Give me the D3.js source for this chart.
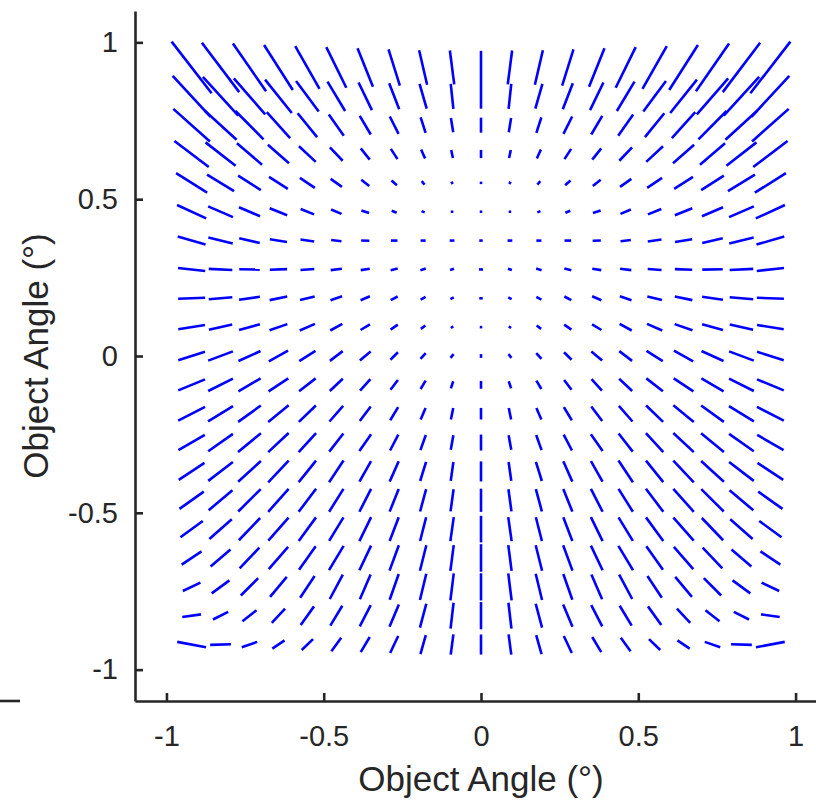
<!DOCTYPE html>
<html>
<head>
<meta charset="utf-8">
<script src="https://cdn.jsdelivr.net/npm/d3@7"></script>
<style>
  html, body { margin: 0; padding: 0; background: #fff; }
  svg { display: block; }
  text { font-family: "Liberation Sans", Arial, Helvetica, sans-serif; fill: #262626; }
</style>
</head>
<body>
<svg id="chart" width="816" height="804"></svg>
<script>
// Field sample positions (degrees)
const fieldX = [-0.92,-0.828,-0.736,-0.644,-0.552,-0.46,-0.368,-0.276,-0.184,-0.092,0,0.092,0.184,0.276,0.368,0.46,0.552,0.644,0.736,0.828,0.92];
const fieldY = [0.92,0.828,0.736,0.644,0.552,0.46,0.368,0.276,0.184,0.092,0,-0.092,-0.184,-0.276,-0.368,-0.46,-0.552,-0.644,-0.736,-0.828,-0.92];

// Line length at each field point (same units as the axes), one row per fieldY
const segLength = [
  [0.208,0.197,0.185,0.170,0.157,0.144,0.132,0.121,0.113,0.109,0.106,0.109,0.113,0.121,0.132,0.144,0.157,0.170,0.185,0.197,0.208],
  [0.178,0.167,0.152,0.136,0.121,0.109,0.098,0.089,0.082,0.080,0.079,0.080,0.082,0.089,0.098,0.109,0.121,0.136,0.152,0.167,0.178],
  [0.156,0.138,0.127,0.111,0.098,0.083,0.069,0.062,0.052,0.046,0.048,0.046,0.052,0.062,0.069,0.083,0.098,0.111,0.127,0.138,0.156],
  [0.137,0.121,0.105,0.089,0.073,0.059,0.046,0.039,0.031,0.026,0.026,0.026,0.031,0.039,0.046,0.059,0.073,0.089,0.105,0.121,0.137],
  [0.117,0.101,0.086,0.071,0.057,0.044,0.032,0.023,0.014,0.008,0.008,0.008,0.014,0.023,0.032,0.044,0.057,0.071,0.086,0.101,0.117],
  [0.102,0.086,0.073,0.060,0.046,0.036,0.026,0.017,0.011,0.008,0.008,0.008,0.011,0.017,0.026,0.036,0.046,0.060,0.073,0.086,0.102],
  [0.092,0.080,0.067,0.055,0.044,0.033,0.026,0.021,0.016,0.015,0.011,0.015,0.016,0.021,0.026,0.033,0.044,0.055,0.067,0.080,0.092],
  [0.087,0.075,0.065,0.055,0.044,0.036,0.029,0.023,0.018,0.013,0.013,0.013,0.018,0.023,0.029,0.036,0.044,0.055,0.065,0.075,0.087],
  [0.086,0.075,0.067,0.057,0.048,0.039,0.032,0.025,0.018,0.012,0.011,0.012,0.018,0.025,0.032,0.039,0.048,0.057,0.067,0.075,0.086],
  [0.086,0.076,0.069,0.060,0.053,0.044,0.035,0.028,0.018,0.009,0.008,0.009,0.018,0.028,0.035,0.044,0.053,0.060,0.069,0.076,0.086],
  [0.089,0.084,0.077,0.070,0.061,0.051,0.045,0.034,0.025,0.015,0.012,0.015,0.025,0.034,0.045,0.051,0.061,0.070,0.077,0.084,0.089],
  [0.092,0.088,0.082,0.075,0.067,0.057,0.049,0.039,0.031,0.024,0.025,0.024,0.031,0.039,0.049,0.057,0.067,0.075,0.082,0.088,0.092],
  [0.096,0.093,0.089,0.084,0.075,0.066,0.058,0.049,0.040,0.037,0.037,0.037,0.040,0.049,0.058,0.066,0.075,0.084,0.089,0.093,0.096],
  [0.097,0.096,0.094,0.089,0.082,0.073,0.065,0.057,0.051,0.047,0.051,0.047,0.051,0.057,0.065,0.073,0.082,0.089,0.094,0.096,0.097],
  [0.098,0.099,0.098,0.095,0.088,0.083,0.075,0.071,0.064,0.061,0.064,0.061,0.064,0.071,0.075,0.083,0.088,0.095,0.098,0.099,0.098],
  [0.095,0.099,0.101,0.098,0.092,0.086,0.082,0.078,0.074,0.071,0.074,0.071,0.074,0.078,0.082,0.086,0.092,0.098,0.101,0.099,0.095],
  [0.088,0.095,0.098,0.098,0.093,0.088,0.085,0.081,0.078,0.077,0.085,0.077,0.078,0.081,0.085,0.088,0.093,0.098,0.098,0.095,0.088],
  [0.076,0.083,0.091,0.094,0.092,0.090,0.087,0.086,0.084,0.083,0.088,0.083,0.084,0.086,0.087,0.090,0.092,0.094,0.091,0.083,0.076],
  [0.062,0.070,0.078,0.083,0.083,0.088,0.086,0.087,0.086,0.087,0.087,0.087,0.086,0.087,0.086,0.088,0.083,0.083,0.078,0.070,0.062],
  [0.060,0.054,0.057,0.062,0.073,0.074,0.076,0.077,0.079,0.083,0.087,0.083,0.079,0.077,0.076,0.074,0.073,0.062,0.057,0.054,0.060],
  [0.093,0.066,0.052,0.047,0.050,0.053,0.056,0.060,0.063,0.065,0.064,0.065,0.063,0.060,0.056,0.053,0.050,0.047,0.052,0.066,0.093]
];

// Line orientation at each field point, degrees counter-clockwise from +x
const segAngle = [
  [-52.3,-52.9,-55.3,-57.5,-60.5,-63.8,-68.2,-72.7,-77,-82.7,90,82.7,77,72.7,68.2,63.8,60.5,57.5,55.3,52.9,52.3],
  [-47.4,-47.6,-49,-51.3,-53.5,-59,-64.3,-69,-74,-84,90,84,74,69,64.3,59,53.5,51.3,49,47.6,47.4],
  [-41.7,-42.5,-45.3,-48,-51,-54.9,-59.5,-63.4,-72.3,-80.8,90,80.8,72.3,63.4,59.5,54.9,51,48,45.3,42.5,41.7],
  [-37.1,-37.9,-40.5,-41.1,-43.2,-46.5,-51.5,-57.2,-66,-78,90,78,66,57.2,51.5,46.5,43.2,41.1,40.5,37.9,37.1],
  [-32.4,-31.7,-32.9,-32.7,-33.7,-35.2,-38.4,-41.2,-48,-56,90,56,48,41.2,38.4,35.2,33.7,32.7,32.9,31.7,32.4],
  [-24.7,-23.4,-23.2,-22,-21.8,-22.8,-19,-22,-22,0,0,0,22,22,19,22.8,21.8,22,23.2,23.4,24.7],
  [-16.1,-13.9,-12.9,-8.9,-8.3,-7.4,-2,0,0,0,0,0,0,0,2,7.4,8.3,8.9,12.9,13.9,16.1],
  [-6.3,-2.5,-1,2.2,4.2,6.7,8.4,13.4,17.4,18,0,-18,-17.4,-13.4,-8.4,-6.7,-4.2,-2.2,1,2.5,6.3],
  [2.1,4.9,8.3,11.7,14,18.9,23.2,27.6,28,26.6,0,-26.6,-28,-27.6,-23.2,-18.9,-14,-11.7,-8.3,-4.9,-2.1],
  [9.2,12.9,15.9,18.8,23.5,29,31.3,34.3,37.6,35,0,-35,-37.6,-34.3,-31.3,-29,-23.5,-18.8,-15.9,-12.9,-9.2],
  [17.4,20.7,24.4,28.9,32.3,37.3,40.2,45,48.4,50.7,90,-50.7,-48.4,-45,-40.2,-37.3,-32.3,-28.9,-24.4,-20.7,-17.4],
  [22.4,26.6,30.6,33.5,38,43.5,47.6,52.8,59,71.6,90,-71.6,-59,-52.8,-47.6,-43.5,-38,-33.5,-30.6,-26.6,-22.4],
  [27.1,31.5,35.8,39.3,43.9,48.9,53.1,59,66.8,78.4,90,-78.4,-66.8,-59,-53.1,-48.9,-43.9,-39.3,-35.8,-31.5,-27.1],
  [30.2,35.1,39.5,43,47.6,52.1,55,62.5,70.4,79.7,90,-79.7,-70.4,-62.5,-55,-52.1,-47.6,-43,-39.5,-35.1,-30.2],
  [33.5,37.6,42.4,46.8,51.3,56.5,60.6,66.1,72.8,82,90,-82,-72.8,-66.1,-60.6,-56.5,-51.3,-46.8,-42.4,-37.6,-33.5],
  [35.5,40.2,45,48.5,53,58,63.1,68.3,75,82.2,90,-82.2,-75,-68.3,-63.1,-58,-53,-48.5,-45,-40.2,-35.5],
  [36.2,41.4,46.3,48.9,53.8,58.8,64,69.2,75.8,82,90,-82,-75.8,-69.2,-64,-58.8,-53.8,-48.9,-46.3,-41.4,-36.2],
  [33.7,40.4,46.4,49.1,54.8,58.9,64.7,69.8,76.1,82.7,90,-82.7,-76.1,-69.8,-64.7,-58.9,-54.8,-49.1,-46.4,-40.4,-33.7],
  [25.3,36.3,45,50.2,56.5,61.9,66.6,70.7,76.5,83,90,-83,-76.5,-70.7,-66.6,-61.9,-56.5,-50.2,-45,-36.3,-25.3],
  [8.1,26.6,38.2,47,54.5,59,62.7,67.3,75.2,83.4,90,-83.4,-75.2,-67.3,-62.7,-59,-54.5,-47,-38.2,-26.6,-8.1],
  [-10.5,1.8,19.2,34,44,54,59,64.8,74.3,82.5,90,-82.5,-74.3,-64.8,-59,-54,-44,-34,-19.2,-1.8,10.5]
];

const tickValues = [-1, -0.5, 0, 0.5, 1];
const axisLabel = "Object Angle (°)";

const svg = d3.select("#chart");
const axisColor = "#262626";

const x = d3.scaleLinear().domain([-1.1, 1.1]).range([135, 827]);
const y = d3.scaleLinear().domain([-1.1, 1.1]).range([701, 11]);

// Flatten the grid into one record per field point
const segments = [];
fieldY.forEach((fy, i) => {
  fieldX.forEach((fx, j) => {
    segments.push({ fx, fy, len: segLength[i][j], ang: segAngle[i][j] });
  });
});

svg.append("g")
  .selectAll("line")
  .data(segments)
  .join("line")
  .attr("x1", d => x(d.fx - d.len / 2 * Math.cos(d.ang * Math.PI / 180)))
  .attr("y1", d => y(d.fy - d.len / 2 * Math.sin(d.ang * Math.PI / 180)))
  .attr("x2", d => x(d.fx + d.len / 2 * Math.cos(d.ang * Math.PI / 180)))
  .attr("y2", d => y(d.fy + d.len / 2 * Math.sin(d.ang * Math.PI / 180)))
  .attr("stroke", "#0000ff")
  .attr("stroke-width", 2.6)
  .attr("stroke-linecap", "butt");

// Axes with inward ticks
const fmt = d => String(d);

const gx = svg.append("g")
  .attr("transform", `translate(0,${y.range()[0]})`)
  .call(d3.axisBottom(x).tickValues(tickValues).tickFormat(fmt)
    .tickSizeInner(-8).tickSizeOuter(0).tickPadding(24));

const gy = svg.append("g")
  .attr("transform", `translate(${x.range()[0]},0)`)
  .call(d3.axisLeft(y).tickValues(tickValues).tickFormat(fmt)
    .tickSizeInner(-8).tickSizeOuter(0).tickPadding(17));

[gx, gy].forEach(g => {
  g.select(".domain").attr("stroke", axisColor).attr("stroke-width", 2.6);
  g.selectAll(".tick line").attr("stroke", axisColor).attr("stroke-width", 2.6);
  g.selectAll(".tick text")
    .attr("fill", axisColor)
    .style("font-size", "29px")
    .style("font-family", '"Liberation Sans", Arial, Helvetica, sans-serif');
});

// short stub of the baseline at the far left edge
svg.append("line")
  .attr("x1", 0).attr("x2", 20)
  .attr("y1", y.range()[0]).attr("y2", y.range()[0])
  .attr("stroke", axisColor).attr("stroke-width", 2.6);

// Axis titles
svg.append("text")
  .attr("x", x(0))
  .attr("y", 791)
  .attr("text-anchor", "middle")
  .style("font-size", "35px")
  .text(axisLabel);

svg.append("text")
  .attr("transform", `translate(48,${y(0)}) rotate(-90)`)
  .attr("text-anchor", "middle")
  .style("font-size", "35px")
  .text(axisLabel);
</script>
</body>
</html>
